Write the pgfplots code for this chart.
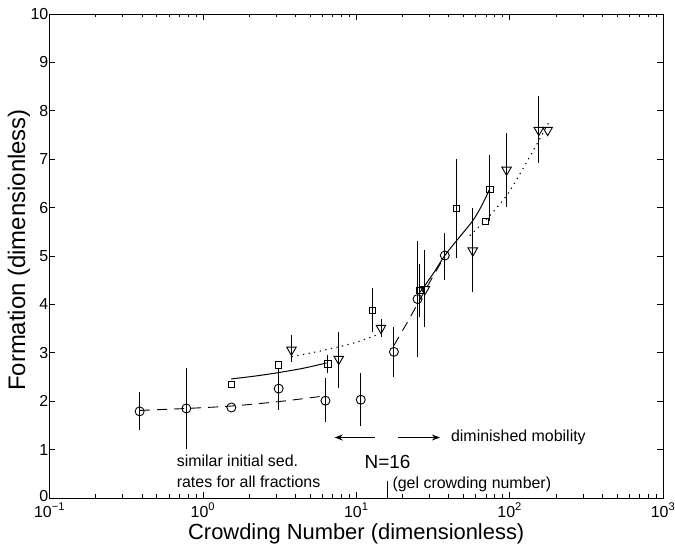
\documentclass[border=0pt]{standalone}
\usepackage{pgfplots}
\pgfplotsset{compat=1.18}
\usepackage{fontspec}
\setmainfont{Liberation Sans}
\usetikzlibrary{arrows.meta}
\begin{document}
\begin{tikzpicture}
\begin{axis}[
  scale only axis, width=613.5bp, height=484bp,
  xmode=log, xmin=0.1, xmax=1000, ymin=0, ymax=10,
  xtick={0.1,1,10,100,1000},
  xticklabels={10\textsuperscript{−1},10\textsuperscript{0},10\textsuperscript{1},10\textsuperscript{2},10\textsuperscript{3}},
  ytick={0,1,2,3,4,5,6,7,8,9,10},
  yticklabels={\raisebox{4bp}{0},1,2,3,4,5,6,7,8,9,10},
  tick align=inside,
  major tick length=6bp, minor tick length=3.5bp,
  tick label style={font=\fontsize{16}{18}\selectfont},
  yticklabel style={inner sep=1bp},
  xticklabel style={inner sep=5bp},
  /pgf/number format/assume math mode=true,
  xlabel={Crowding Number (dimensionless)},
  ylabel={Formation (dimensionless)},
  xlabel style={font=\fontsize{22}{26}\selectfont, inner sep=1bp},
  ylabel style={font=\fontsize{24}{28}\selectfont, yshift=-4bp, xshift=6bp},
  axis line style={line width=0.8bp},
  every tick/.style={line width=0.6bp, black},
  clip=false,
]
% --- fitted curves ---
\addplot[black, line width=0.9bp, dash pattern=on 10bp off 7bp, smooth] coordinates {
 (0.39,1.81) (0.78,1.85) (1.53,1.90) (3.1,1.99) (5.9,2.10)};
\addplot[black, line width=0.9bp, dash pattern=on 10bp off 7bp, smooth] coordinates {
 (17.6,3.15) (21,3.57) (25,4.0) (30,4.45) (37,4.95)};
\addplot[black, line width=1bp, smooth] coordinates {
 (1.53,2.46) (2.2,2.52) (3.1,2.59) (4.5,2.68) (6.4,2.79)};
\addplot[black, line width=1bp, smooth] coordinates {
 (26.0,4.25) (31.5,4.62) (37.8,5.01) (46,5.35) (57.5,5.73) (66,6.05) (74.3,6.39)};
\addplot[black, line width=1.1bp, dash pattern=on 1.2bp off 4.5bp, smooth] coordinates {
 (3.8,2.92) (5.5,3.02) (7.6,3.12) (10.3,3.23) (13.6,3.37)};
\addplot[black, line width=1.1bp, dash pattern=on 1.2bp off 4.5bp, smooth] coordinates {
 (55,5.42) (75,5.85) (100,6.34) (142,7.17) (183,7.8)};
% --- circles ---
\addplot[black, only marks, mark=o, mark size=4.5bp, mark options={line width=0.9bp},
  error bars/.cd, y dir=both, y explicit, error mark=none,
  error bar style={line width=0.9bp}] coordinates {
 (0.387,1.79) += (0,0.39) -= (0,0.39)
 (0.78,1.85) += (0,0.84) -= (0,0.84)
 (1.534,1.87) += (0,0) -= (0,0)
 (3.12,2.26) += (0,0.40) -= (0,0.45)
 (6.30,2.01) += (0,0.47) -= (0,0.45)
 (10.7,2.03) += (0,0.56) -= (0,0.55)
 (17.6,3.02) += (0,0.51) -= (0,0.51)
 (25.1,4.11) += (0,1.19) -= (0,1.19)
 (37.8,5.01) += (0,0.47) -= (0,0.51)
};
% --- squares ---
\addplot[black, only marks, mark=square, mark size=3.2bp, mark options={line width=0.9bp},
  error bars/.cd, y dir=both, y explicit, error mark=none,
  error bar style={line width=0.9bp}] coordinates {
 (1.534,2.34) += (0,0) -= (0,0)
 (3.12,2.75) += (0,0) -= (0,0)
 (6.52,2.77) += (0,0.18) -= (0,0.18)
 (12.8,3.88) += (0,0.45) -= (0,0.45)
 (26.0,4.29) += (0,0.55) -= (0,0.55)
 (45.1,5.98) += (0,1.02) -= (0,1.03)
 (69.7,5.71) += (0,0) -= (0,0)
 (74.3,6.37) += (0,0.71) -= (0,0.64)
};
% --- triangles ---
\addplot[black, only marks, mark=triangle, mark size=5.5bp, mark options={line width=0.9bp, rotate=180},
  error bars/.cd, y dir=both, y explicit, error mark=none,
  error bar style={line width=0.9bp}] coordinates {
 (3.78,3.06) += (0,0.31) -= (0,0.25)
 (7.69,2.87) += (0,0.56) -= (0,0.60)
 (14.5,3.51) += (0,0.19) -= (0,0.18)
 (28.0,4.31) += (0,0.82) -= (0,0.78)
 (57.5,5.11) += (0,0.88) -= (0,0.86)
 (95.5,6.78) += (0,0.76) -= (0,0.76)
 (155,7.60) += (0,0.70) -= (0,0.68)
 (177,7.60) += (0,0) -= (0,0)
};
% --- annotations ---
\draw[black, line width=0.9bp] (axis cs:16,0) -- (axis cs:16,0.35);
\draw[black, line width=0.9bp, -{Stealth[length=8bp,width=6bp]}] (axis cs:13.2,1.25) -- (axis cs:7.24,1.25);
\draw[black, line width=0.9bp, -{Stealth[length=8bp,width=6bp]}] (axis cs:18.7,1.25) -- (axis cs:35.1,1.25);
\node[anchor=west, inner sep=0pt, font=\fontsize{16}{18}\selectfont] at (axis cs:41.4,1.25) {diminished mobility};
\node[inner sep=0pt, font=\fontsize{19}{22}\selectfont] at (axis cs:16,0.74) {N=16};
\node[anchor=west, inner sep=0pt, font=\fontsize{16}{18}\selectfont] at (axis cs:17.2,0.29) {(gel crowding number)};
\node[anchor=west, inner sep=0pt, align=left, font=\fontsize{16}{21}\selectfont] at (axis cs:0.674,0.56) {similar initial sed.\\rates for all fractions};
\end{axis}
\pgfresetboundingbox
\path (current axis.south west) ++(-49.5bp,-50bp) rectangle ([shift={(12bp,14bp)}]current axis.north east);
\end{tikzpicture}
\end{document}
